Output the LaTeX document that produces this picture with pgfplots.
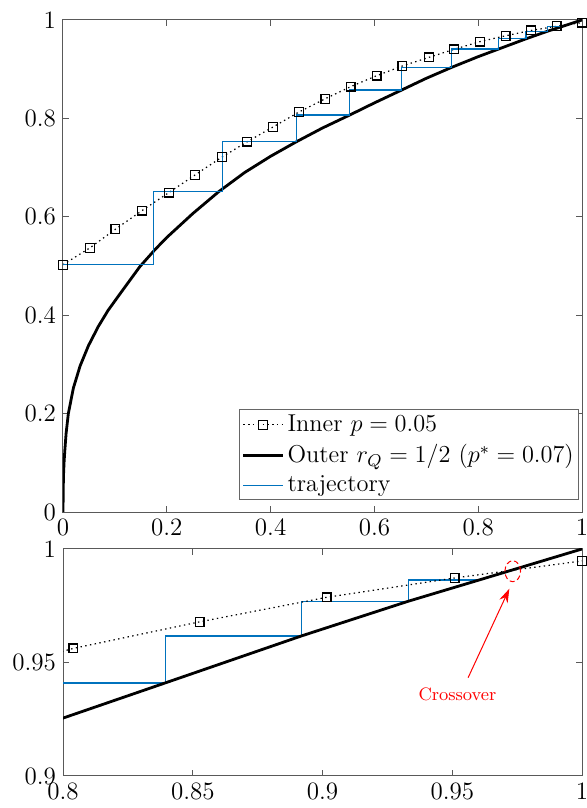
\RequirePackage{fix-cm}
\documentclass[border=0pt]{standalone}
\usepackage{pgfplots}
\pgfplotsset{compat=1.18}
\usetikzlibrary{arrows.meta}
\definecolor{mblue}{rgb}{0,0.447,0.741}

\pgfplotstableread{
x y
0 0
0.0005 0.05
0.001 0.075
0.002 0.1
0.0035 0.125
0.006 0.16
0.0103 0.2
0.02 0.252
0.033 0.297
0.049 0.338
0.068 0.377
0.087 0.41
0.113 0.448
0.148 0.4986
0.177 0.533
0.2 0.558
0.25 0.6065
0.3 0.651
0.35 0.690
0.4 0.723
0.45 0.7527
0.5 0.7805
0.5525 0.8069
0.6 0.8315
0.6526 0.8577
0.7 0.8815
0.749 0.9038
0.8 0.9255
0.8394 0.9410
0.8919 0.9617
0.9331 0.9770
0.9604 0.98636
1 1
}\outerdata

\pgfplotstableread{
x y
0 0.5026
0.052 0.537
0.1008 0.5746
0.152 0.6124
0.2037 0.649
0.2543 0.685
0.3058 0.721
0.3551 0.7527
0.4046 0.7825
0.4547 0.813
0.5054 0.840
0.5543 0.8645
0.6044 0.8868
0.6538 0.9065
0.7052 0.9241
0.7534 0.9404
0.804 0.9562
0.8526 0.9679
0.9016 0.9787
0.9509 0.98724
1.0 0.99472
}\innerdata

\pgfplotstableread{
x y
0.804 0.9562
0.8526 0.9679
0.9016 0.9787
0.9509 0.98724
1.0 0.99472
}\innerzoom

\pgfplotstableread{
x y
0 0.5034
0.174 0.5034
0.174 0.651
0.307 0.651
0.307 0.7527
0.450 0.7527
0.450 0.8069
0.5525 0.8069
0.5525 0.8577
0.6526 0.8577
0.6526 0.9038
0.749 0.9038
0.749 0.9410
0.8394 0.9410
0.8394 0.9617
0.8919 0.9617
0.8919 0.9770
0.9331 0.9770
0.9331 0.98636
0.9604 0.98636
}\trajdata

\begin{document}
\begin{tikzpicture}
\pgfplotsset{
  every axis/.append style={
    scale only axis, width=259.5pt,
    axis line style={black!65, line width=0.5pt},
    tick style={black!65, line width=0.5pt},
    major tick length=3pt,
    tick align=inside,
    tick label style={font=\fontsize{12.5}{15}\selectfont},
    clip marker paths=false,
  },
}
\begin{axis}[
  at={(0,0)}, anchor=north west,
  height=246pt,
  xmin=0, xmax=1, ymin=0, ymax=1,
  xtick={0,0.2,0.4,0.6,0.8,1},
  xticklabels={0,0.2,0.4,0.6,0.8,1},
  ytick={0,0.2,0.4,0.6,0.8,1},
  yticklabels={0,0.2,0.4,0.6,0.8,1},
  legend style={at={(0.9948,0.0238)}, anchor=south east, draw=black!60,
    line width=0.5pt,
    font=\fontsize{12.2}{14}\selectfont, inner sep=1pt, row sep=2pt,
    nodes={inner sep=1.5pt}},
  legend cell align=left,
  legend image code/.code={%
    \draw[#1, mark=none] (0cm,0cm) -- (0.7cm,0cm);
    \draw[#1, draw=none] plot coordinates {(0.35cm,0cm)};},
]
\addplot[black, line width=0.6pt, dash pattern=on 0.7pt off 1.7pt,
    mark=square, mark size=2.2pt, mark options={solid, line width=0.6pt}] table[x=x,y=y] {\innerdata};
\addlegendentry{Inner $p=0.05$}
\addplot[black, line width=1.4pt] table[x=x,y=y] {\outerdata};
\addlegendentry{Outer $r_Q=1/2$ $(p^*=0.07)$}
\addplot[mblue, line width=0.65pt] table[x=x,y=y] {\trajdata};
\addlegendentry{trajectory}
\end{axis}

\begin{axis}[
  at={(0,-264.5pt)}, anchor=north west,
  height=113.5pt,
  xmin=0.8, xmax=1, ymin=0.9, ymax=1,
  xtick={0.8,0.85,0.9,0.95,1},
  xticklabels={0.8,0.85,0.9,0.95,1},
  ytick={0.9,0.95,1},
  yticklabels={0.9,0.95,1},
]
\addplot[mblue, line width=0.65pt] table[x=x,y=y] {\trajdata};
\addplot[black, line width=0.6pt, dash pattern=on 0.7pt off 1.7pt] table[x=x,y=y] {\innerdata};
\addplot[only marks, black, mark=square, mark size=2.2pt, mark options={solid, line width=0.6pt}] table[x=x,y=y] {\innerzoom};
\addplot[black, line width=1.4pt] table[x=x,y=y] {\outerdata};
\draw[red, line width=0.5pt, dash pattern=on 2.5pt off 1.5pt] (axis cs:0.9733,0.9902) ellipse [x radius=3.9pt, y radius=5.25pt];
\draw[red, line width=0.5pt, -{Stealth[length=7pt,width=4.5pt]}] (axis cs:0.9561,0.9433) -- (axis cs:0.9720,0.9825);
\node[red, font=\fontsize{9}{11}\selectfont] at (axis cs:0.952,0.936) {Crossover};
\end{axis}
\pgfresetboundingbox
\useasboundingbox (-31.5pt,-394pt) rectangle (262pt,10pt);
\end{tikzpicture}
\end{document}
